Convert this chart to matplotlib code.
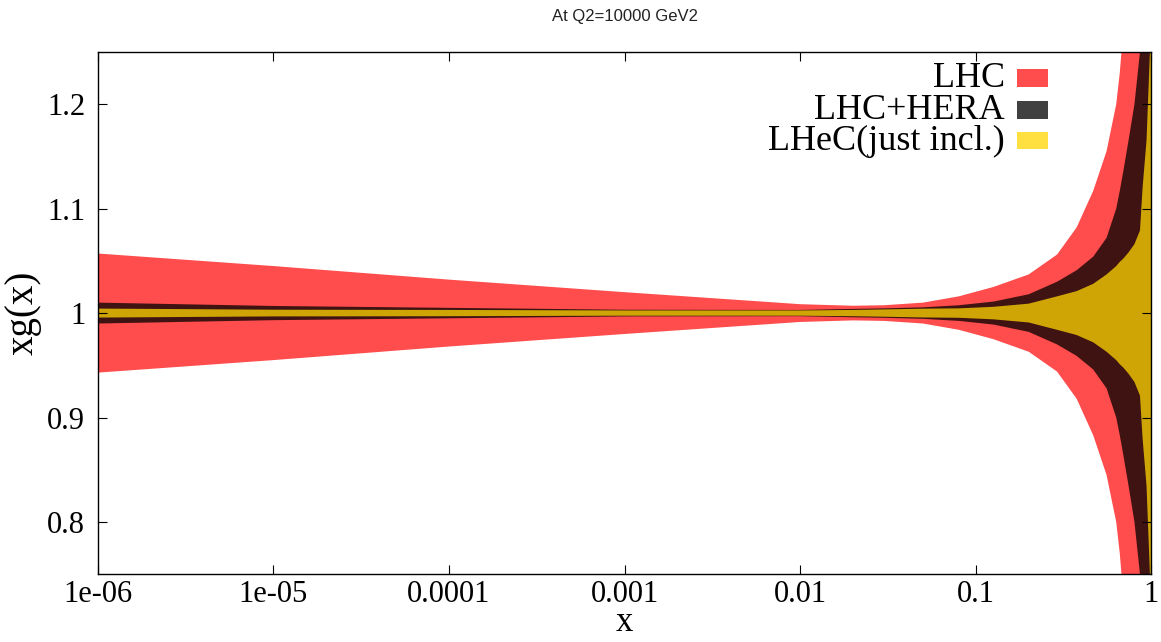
import numpy as np
import matplotlib
matplotlib.use("Agg")
import matplotlib.pyplot as plt
from matplotlib.patches import Rectangle

# Momentum fraction grid
x = [1e-6, 1e-5, 1e-4, 1e-3, 1e-2, 0.02, 0.03, 0.05, 0.08, 0.126, 0.2, 0.29,
     0.375, 0.466, 0.555, 0.63, 0.66, 0.69, 0.74, 0.8, 0.86, 0.89, 0.937, 0.98, 1.0]

# Relative uncertainty half-widths of xg(x) at Q2 = 10000 GeV2
err_lhc = [0.057, 0.045, 0.032, 0.020, 0.0085, 0.007, 0.0075, 0.010, 0.016, 0.025,
           0.037, 0.056, 0.082, 0.117, 0.155, 0.20, 0.23, 0.27, 0.32, 0.40, 0.45,
           0.48, 0.52, 0.56, 0.60]
err_lhc_hera = [0.010, 0.0068, 0.005, 0.0032, 0.003, 0.004, 0.0045, 0.0055, 0.0075, 0.011,
                0.018, 0.030, 0.041, 0.054, 0.072, 0.10, 0.117, 0.135, 0.165, 0.20, 0.25,
                0.30, 0.38, 0.45, 0.50]
err_lhec = [0.0043, 0.0032, 0.003, 0.0025, 0.0025, 0.003, 0.0035, 0.0042, 0.0045, 0.006,
            0.009, 0.016, 0.021, 0.028, 0.037, 0.045, 0.049, 0.052, 0.058, 0.066, 0.079,
            0.12, 0.165, 0.25, 0.28]

labels = ["LHC", "LHC+HERA", "LHeC(just incl.)"]
band_colors = [(1.0, 0.0, 0.0, 0.7), (0.0, 0.0, 0.0, 0.75), (1.0, 0.843, 0.0, 0.75)]

xticks = [1e-6, 1e-5, 1e-4, 1e-3, 1e-2, 0.1, 1]
xticklabels = ["1e-06", "1e-05", "0.0001", "0.001", "0.01", "0.1", "1"]
yticks = [0.8, 0.9, 1.0, 1.1, 1.2]
yticklabels = ["0.8", "0.9", "1", "1.1", "1.2"]

serif = "Liberation Serif"

fig = plt.figure(figsize=(11.61, 6.42), dpi=100)
ax = fig.add_axes([0.0842, 0.1054, 0.9076, 0.8139])

xa = np.array(x)
for err, col in zip([err_lhc, err_lhc_hera, err_lhec], band_colors):
    e = np.array(err)
    ax.fill_between(xa, 1 - e, 1 + e, facecolor=col, edgecolor="none", linewidth=0)

ax.set_xscale("log")
ax.set_xlim(1e-6, 1)
ax.set_ylim(0.75, 1.25)
ax.set_xticks(xticks)
ax.set_xticklabels(xticklabels)
ax.set_yticks(yticks)
ax.set_yticklabels(yticklabels)
ax.xaxis.set_minor_locator(matplotlib.ticker.NullLocator())
ax.tick_params(which="major", direction="in", length=6.5, width=0.8,
               top=True, right=True, labelsize=22)
ax.tick_params(axis="x", pad=4)
ax.tick_params(axis="y", pad=9)
for lab in ax.get_xticklabels() + ax.get_yticklabels():
    lab.set_fontfamily(serif)
for sp in ax.spines.values():
    sp.set_linewidth(1.0)

ax.set_xlabel("x", fontsize=25, fontfamily=serif, labelpad=-2)
ax.set_ylabel("xg(x)", fontsize=28, fontfamily=serif, labelpad=4)

fig.text(0.5383, 1 - 17 / 642, "At Q2=10000 GeV2", ha="center", va="center",
         fontsize=12, fontfamily="Liberation Sans", color="#222222")

# Key: text right-aligned to the left of each colour swatch
legend_colors = ["#ff4d4d", "#404040", "#ffe040"]
baselines = [0.932, 0.8708, 0.812]
for lab, col, yb in zip(labels, legend_colors, baselines):
    ax.text(0.861, yb, lab, transform=ax.transAxes, ha="right", va="baseline",
            fontsize=26, fontfamily=serif)
    ax.add_patch(Rectangle((0.872, yb + 0.0012), 0.030, 0.033, transform=ax.transAxes,
                           facecolor=col, edgecolor="none", zorder=5))

fig.savefig("out.png", dpi=100)
